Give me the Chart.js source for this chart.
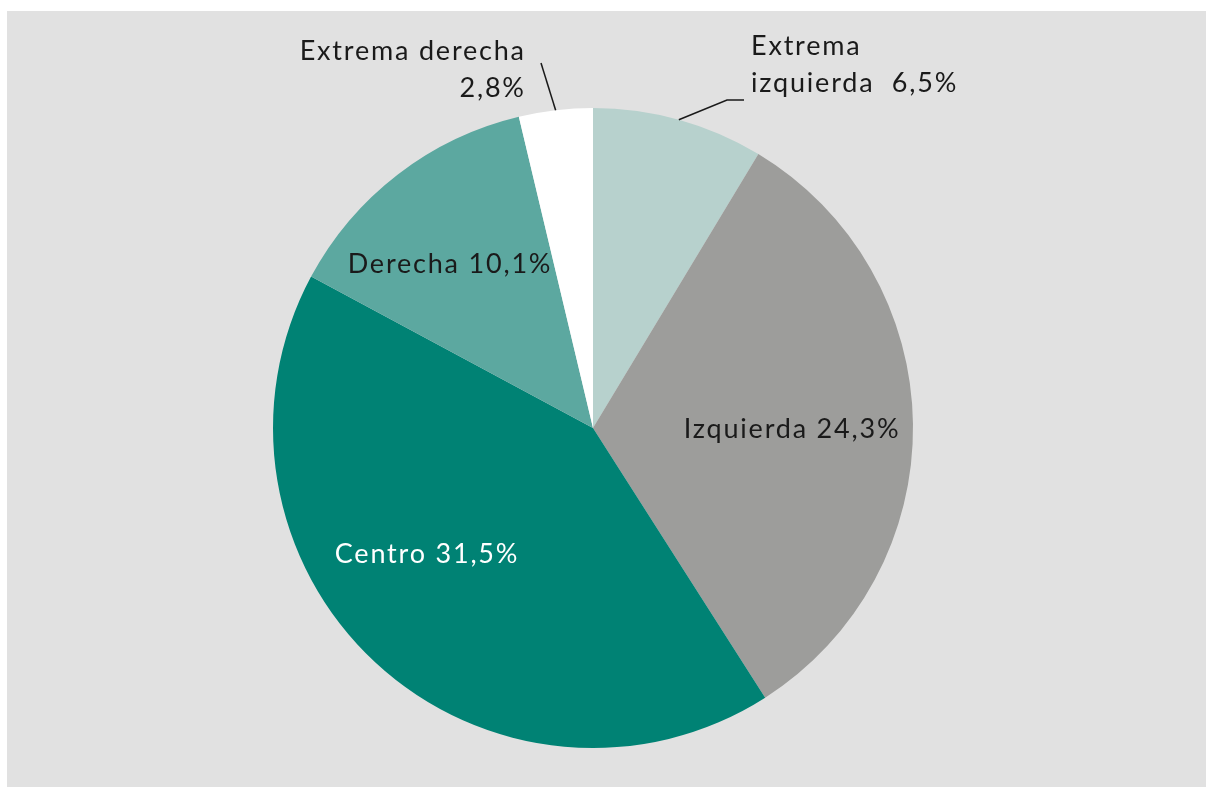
<!DOCTYPE html>
<html>
<head>
<meta charset="utf-8">
<script src="https://cdn.jsdelivr.net/npm/chart.js@4.4.0/dist/chart.umd.min.js"></script>
<style>
    html, body { margin: 0; padding: 0; background: #ffffff; }
    canvas { display: block; }
</style>
</head>
<body>
<canvas id="myChart" width="1206" height="787"></canvas>
<script>
// Data
var categories = ['Extrema izquierda', 'Izquierda', 'Centro', 'Derecha', 'Extrema derecha'];
var values = [6.5, 24.3, 31.5, 10.1, 2.8];
var valueLabels = ['6,5%', '24,3%', '31,5%', '10,1%', '2,8%'];
var colors = ['#b7d1cd', '#9d9d9b', '#008274', '#5ca8a0', '#ffffff'];

// How each label is placed, relative to the pie centre (in pixels)
var labelSpecs = [
    { lines: ['Extrema', 'izquierda  ' + valueLabels[0]], align: 'left', dx: 158, dy: -373, color: '#1a1a1a', leader: 'elbow' },
    { lines: ['Izquierda ' + valueLabels[1]], align: 'center', dx: 199, dy: 10, color: '#1a1a1a' },
    { lines: ['Centro ' + valueLabels[2]], align: 'center', dx: -166, dy: 135, color: '#ffffff' },
    { lines: ['Derecha ' + valueLabels[3]], align: 'center', dx: -143, dy: -155, color: '#1a1a1a' },
    { lines: ['Extrema derecha', valueLabels[4]], align: 'right', dx: -69, dy: -368, color: '#1a1a1a', leader: 'straight' }
];

var FONT = '400 27px Lato, "DejaVu Sans", sans-serif';
var LETTER_SPACING = '1.8px';
var LINE_H = 37;

// grey panel behind the chart
var panelPlugin = {
    id: 'panel',
    beforeDraw: function (chart) {
        var ctx = chart.ctx;
        ctx.save();
        ctx.fillStyle = '#e1e1e1';
        ctx.fillRect(7, 11, chart.width - 7, chart.height - 11);
        ctx.restore();
    }
};

// slice labels and leader lines
var labelPlugin = {
    id: 'sliceLabels',
    afterDatasetsDraw: function (chart) {
        var ctx = chart.ctx;
        var meta = chart.getDatasetMeta(0);
        ctx.save();
        ctx.font = FONT;
        ctx.letterSpacing = LETTER_SPACING;
        ctx.textBaseline = 'alphabetic';
        meta.data.forEach(function (arc, i) {
            var spec = labelSpecs[i];
            var cx = arc.x, cy = arc.y;
            var mid = (arc.startAngle + arc.endAngle) / 2;
            var ex = cx + Math.cos(mid) * arc.outerRadius;
            var ey = cy + Math.sin(mid) * arc.outerRadius;

            ctx.strokeStyle = '#1a1a1a';
            ctx.lineWidth = 1.5;
            if (spec.leader === 'straight') {
                ctx.beginPath();
                ctx.moveTo(ex, ey);
                ctx.lineTo(cx - 52, cy - 365);
                ctx.stroke();
            } else if (spec.leader === 'elbow') {
                ctx.beginPath();
                ctx.moveTo(ex, ey);
                ctx.lineTo(cx + 134, cy - 328);
                ctx.lineTo(cx + 151, cy - 328);
                ctx.stroke();
            }

            ctx.fillStyle = spec.color;
            ctx.textAlign = spec.align;
            spec.lines.forEach(function (line, k) {
                var x = cx + spec.dx;
                // letter spacing adds a trailing gap, compensate for right alignment
                if (spec.align === 'right') x += 1.8;
                ctx.fillText(line, x, cy + spec.dy + k * LINE_H);
            });
        });
        ctx.restore();
    }
};

var ctx = document.getElementById('myChart').getContext('2d');
var myChart = new Chart(ctx, {
    type: 'pie',
    data: {
        labels: categories,
        datasets: [{
            data: values,
            backgroundColor: colors,
            borderWidth: 0
        }]
    },
    options: {
        responsive: false,
        animation: false,
        layout: {
            padding: { left: 273, right: 293, top: 108, bottom: 39 }
        },
        plugins: {
            legend: { display: false },
            tooltip: { enabled: false }
        }
    },
    plugins: [panelPlugin, labelPlugin]
});
</script>
</body>
</html>
